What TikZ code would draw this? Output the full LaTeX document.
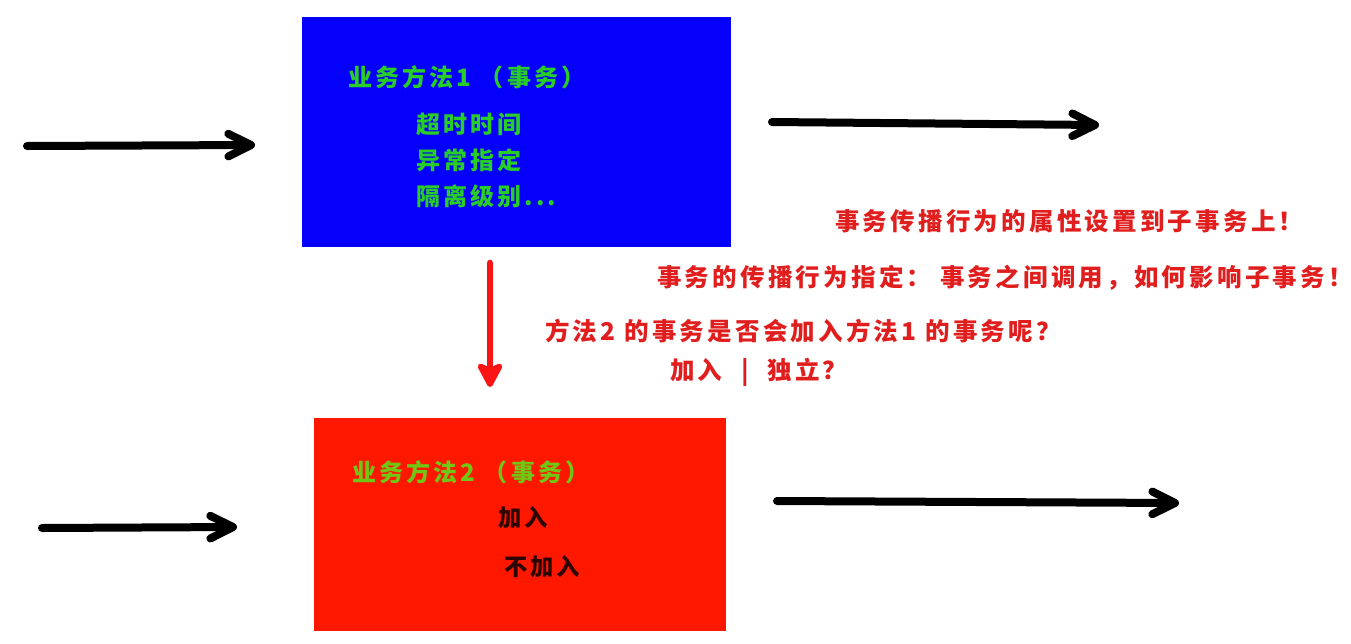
\documentclass[tikz,border=0pt]{standalone}
\usepackage{fontspec}
\usepackage{xcolor}
\usepackage{tikz}
\usetikzlibrary{
  arrows.meta,
  positioning
}
\newfontfamily\cjk[LetterSpace=13]{Noto Sans CJK SC}
\newcommand{\moredots}{...}
\definecolor{boxblue}{RGB}{4,0,250}
\definecolor{boxred}{RGB}{255,24,0}
\definecolor{titlegreen}{RGB}{40,205,40}
\definecolor{limegreen}{RGB}{110,200,20}
\definecolor{darktxt}{RGB}{45,5,0}
\definecolor{notered}{RGB}{225,30,30}
\definecolor{arrowred}{RGB}{250,20,20}

\begin{document}
\begin{tikzpicture}[x=0.75pt, y=-0.75pt,
  methodbox/.style={anchor=north west, inner sep=0pt, draw=none},
  boxtext/.style={anchor=west, inner sep=0pt, font=\cjk\bfseries\fontsize{18pt}{20pt}\selectfont},
  boxsmall/.style={boxtext, font=\cjk\bfseries\fontsize{17.5pt}{19pt}\selectfont},
  note/.style={anchor=west, inner sep=0pt, text=notered, font=\cjk\bfseries\fontsize{18.4pt}{20pt}\selectfont},
  call/.style={line width=6pt, line cap=round, -{Straight Barb[length=17pt,width=17pt,round]}},
  spread/.style={line width=5pt, line cap=round, draw=arrowred, -{Stealth[length=22pt,width=23pt,inset=5pt,round]}}
]
  \fill[white] (0,0) rectangle (1351,643);
  \useasboundingbox (0,0) rectangle (1351,643);
  % the two transactional methods
  \node[methodbox, fill=boxblue, minimum width=321.75pt, minimum height=172.5pt] (m1) at (302,17) {};
  \node[methodbox, fill=boxred, minimum width=309pt, minimum height=159.75pt] (m2) at (314,418) {};

  % method 1 text
  \node[boxtext, text=titlegreen] (t1) at (348,77) {业务方法1 （事务）};
  \foreach \txt [count=\i] in {超时时间,异常指定,隔离级别\moredots} {
    \node[boxtext, text=titlegreen] (a\i) at (416, 88+36*\i) {\txt};
  }

  % method 2 text
  \node[boxtext, text=limegreen] (t2) at (352,472) {业务方法2 （事务）};
  \node[boxsmall, text=darktxt] (b1) at (498,518) {加入};
  \node[boxsmall, text=darktxt] (b2) at (504,567) {不加入};

  % notes
  \node[note] (n1) at (835,221) {事务传播行为的属性设置到子事务上！};
  \node[note] (n2) at (657,278) {事务的传播行为指定： 事务之间调用，如何影响子事务！};
  \node[note] (n3) at (545,331) {方法2 的事务是否会加入方法1 的事务呢？};
  \node[note] (n4) at (670,372) {加入\hspace{14pt}|\hspace{14pt}独立？};

  % calls in and out
  \coordinate (in1) at (27,146);
  \coordinate (in1tip) at (255,145);
  \coordinate (out1) at (772,122);
  \coordinate (out1tip) at (1099,125);
  \coordinate (in2) at (42,528);
  \coordinate (in2tip) at (237,527);
  \coordinate (out2) at (777,501);
  \coordinate (out2tip) at (1179,503);
  \draw[call] (in1) -- (in1tip);
  \draw[call] (out1) -- (out1tip);
  \draw[call] (in2) -- (in2tip);
  \draw[call] (out2) -- (out2tip);

  % propagation from method 1 to method 2
  \coordinate (prop) at (490,263);
  \coordinate (proptip) at (490,387);
  \draw[spread] (prop) -- (proptip);
\end{tikzpicture}
\end{document}
